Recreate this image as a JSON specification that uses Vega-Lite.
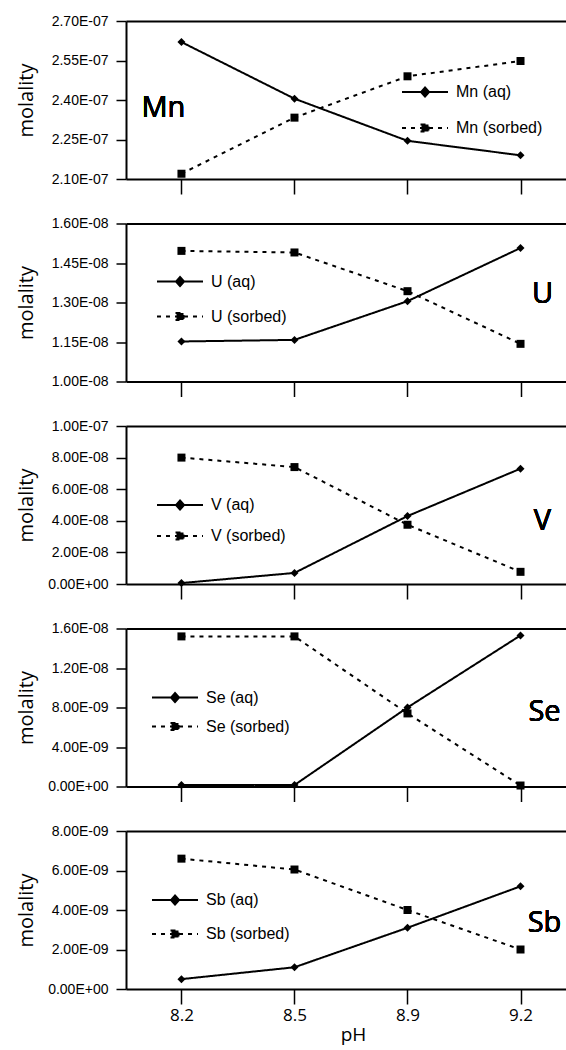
{
  "$schema": "https://vega.github.io/schema/vega-lite/v6.json",
  "padding": {"left": 15, "top": 14, "right": 0, "bottom": 4},
  "bounds": "flush",
  "spacing": 44.5,
  "datasets": {
    "d": [
      {"el": "Mn", "pH": "8.2", "series": "Mn (aq)", "m": 2.62e-7},
      {"el": "Mn", "pH": "8.5", "series": "Mn (aq)", "m": 2.405e-7},
      {"el": "Mn", "pH": "8.9", "series": "Mn (aq)", "m": 2.245e-7},
      {"el": "Mn", "pH": "9.2", "series": "Mn (aq)", "m": 2.19e-7},
      {"el": "Mn", "pH": "8.2", "series": "Mn (sorbed)", "m": 2.12e-7},
      {"el": "Mn", "pH": "8.5", "series": "Mn (sorbed)", "m": 2.333e-7},
      {"el": "Mn", "pH": "8.9", "series": "Mn (sorbed)", "m": 2.49e-7},
      {"el": "Mn", "pH": "9.2", "series": "Mn (sorbed)", "m": 2.548e-7},
      {"el": "U", "pH": "8.2", "series": "U (aq)", "m": 1.152e-8},
      {"el": "U", "pH": "8.5", "series": "U (aq)", "m": 1.158e-8},
      {"el": "U", "pH": "8.9", "series": "U (aq)", "m": 1.305e-8},
      {"el": "U", "pH": "9.2", "series": "U (aq)", "m": 1.507e-8},
      {"el": "U", "pH": "8.2", "series": "U (sorbed)", "m": 1.496e-8},
      {"el": "U", "pH": "8.5", "series": "U (sorbed)", "m": 1.49e-8},
      {"el": "U", "pH": "8.9", "series": "U (sorbed)", "m": 1.343e-8},
      {"el": "U", "pH": "9.2", "series": "U (sorbed)", "m": 1.143e-8},
      {"el": "V", "pH": "8.2", "series": "V (aq)", "m": 6e-10},
      {"el": "V", "pH": "8.5", "series": "V (aq)", "m": 7e-9},
      {"el": "V", "pH": "8.9", "series": "V (aq)", "m": 4.3e-8},
      {"el": "V", "pH": "9.2", "series": "V (aq)", "m": 7.3e-8},
      {"el": "V", "pH": "8.2", "series": "V (sorbed)", "m": 8.0e-8},
      {"el": "V", "pH": "8.5", "series": "V (sorbed)", "m": 7.4e-8},
      {"el": "V", "pH": "8.9", "series": "V (sorbed)", "m": 3.75e-8},
      {"el": "V", "pH": "9.2", "series": "V (sorbed)", "m": 7.7e-9},
      {"el": "Se", "pH": "8.2", "series": "Se (aq)", "m": 1.5e-10},
      {"el": "Se", "pH": "8.5", "series": "Se (aq)", "m": 1.5e-10},
      {"el": "Se", "pH": "8.9", "series": "Se (aq)", "m": 8.0e-9},
      {"el": "Se", "pH": "9.2", "series": "Se (aq)", "m": 1.53e-8},
      {"el": "Se", "pH": "8.2", "series": "Se (sorbed)", "m": 1.52e-8},
      {"el": "Se", "pH": "8.5", "series": "Se (sorbed)", "m": 1.52e-8},
      {"el": "Se", "pH": "8.9", "series": "Se (sorbed)", "m": 7.4e-9},
      {"el": "Se", "pH": "9.2", "series": "Se (sorbed)", "m": 1e-10},
      {"el": "Sb", "pH": "8.2", "series": "Sb (aq)", "m": 5e-10},
      {"el": "Sb", "pH": "8.5", "series": "Sb (aq)", "m": 1.1e-9},
      {"el": "Sb", "pH": "8.9", "series": "Sb (aq)", "m": 3.1e-9},
      {"el": "Sb", "pH": "9.2", "series": "Sb (aq)", "m": 5.2e-9},
      {"el": "Sb", "pH": "8.2", "series": "Sb (sorbed)", "m": 6.6e-9},
      {"el": "Sb", "pH": "8.5", "series": "Sb (sorbed)", "m": 6.05e-9},
      {"el": "Sb", "pH": "8.9", "series": "Sb (sorbed)", "m": 4.0e-9},
      {"el": "Sb", "pH": "9.2", "series": "Sb (sorbed)", "m": 2.0e-9}
    ]
  },
  "data": {"name": "d"},
  "resolve": {
    "scale": {"shape": "independent", "strokeDash": "independent"},
    "legend": {"shape": "independent", "strokeDash": "independent"}
  },
  "vconcat": [
    {
      "width": 441, "height": 158,
      "transform": [{"filter": "datum.el === 'Mn'"}],
      "resolve": {"axis": {"x": "independent"}},
      "encoding": {
        "y": {"field": "m", "type": "quantitative", "scale": {"domain": [2.1e-7, 2.7e-7], "nice": false, "zero": false}, "axis": {"title": "molality", "values": [2.1e-7, 2.25e-7, 2.4e-7, 2.55e-7, 2.7e-7], "labelExpr": "replace(replace(upper(format(datum.value*1.000001,'.2e')),'E-','E-0'),'E+','E+0')", "labelFont": "Liberation Sans", "labelFontSize": 14, "titleFont": "Open Sans", "titleFontSize": 20, "titleFontWeight": "normal"}}
      },
      "layer": [
        {
          "mark": {"type": "line", "color": "black", "strokeWidth": 2},
          "encoding": {
            "x": {"field": "pH", "type": "ordinal", "scale": {"type": "point", "padding": 0.451, "align": 0.544}, "axis": {"labels": false, "title": null}},
            "strokeDash": {"field": "series", "type": "nominal", "scale": {"range": [[1, 0], [4, 5]]}, "legend": {"orient": "none", "legendX": 288, "legendY": 60, "rowPadding": 16,
              "encode": {"symbols": {"update": {"shape": {"signal": "indexof(datum.value,'(aq)')>=0 ? 'M-2.3,0H2.3M0,-0.45L0.4,0L0,0.45L-0.4,0Z' : 'M-2.3,0H2.3M-0.35,-0.35H0.35V0.35H-0.35Z'"}, "strokeDash": {"signal": "indexof(datum.value,'(aq)')>=0 ? [1,0] : [4,4]"}, "size": {"value": 400}, "fill": {"value": "black"}, "stroke": {"value": "black"}, "strokeWidth": {"value": 2}, "opacity": {"value": 1}}}}}}
          }
        },
        {
          "mark": {"type": "point", "filled": true, "size": 64, "color": "black", "opacity": 1},
          "encoding": {
            "x": {"field": "pH", "type": "ordinal", "axis": {"orient": "top", "ticks": false, "labels": false, "title": null}},
            "shape": {"field": "series", "type": "nominal", "scale": {"range": ["diamond", "square"]}, "legend": null}
          }
        },
        {
          "mark": {"type": "text", "text": "Mn", "font": "Open Sans", "fontSize": 29, "dx": -18, "align": "center", "baseline": "middle"},
          "encoding": {
            "x": {"datum": "8.2", "type": "ordinal", "axis": null},
            "y": {"datum": 2.37e-7, "type": "quantitative"}
          }
        }
      ]
    },
    {
      "width": 441, "height": 158,
      "transform": [{"filter": "datum.el === 'U'"}],
      "resolve": {"axis": {"x": "independent"}},
      "encoding": {
        "y": {"field": "m", "type": "quantitative", "scale": {"domain": [1.0e-8, 1.6e-8], "nice": false, "zero": false}, "axis": {"title": "molality", "values": [1.0e-8, 1.15e-8, 1.3e-8, 1.45e-8, 1.6e-8], "labelExpr": "replace(replace(upper(format(datum.value*1.000001,'.2e')),'E-','E-0'),'E+','E+0')", "labelFont": "Liberation Sans", "labelFontSize": 14, "titleFont": "Open Sans", "titleFontSize": 20, "titleFontWeight": "normal"}}
      },
      "layer": [
        {
          "mark": {"type": "line", "color": "black", "strokeWidth": 2},
          "encoding": {
            "x": {"field": "pH", "type": "ordinal", "scale": {"type": "point", "padding": 0.451, "align": 0.544}, "axis": {"labels": false, "title": null}},
            "strokeDash": {"field": "series", "type": "nominal", "scale": {"range": [[1, 0], [4, 5]]}, "legend": {"orient": "none", "legendX": 43, "legendY": 47, "rowPadding": 15,
              "encode": {"symbols": {"update": {"shape": {"signal": "indexof(datum.value,'(aq)')>=0 ? 'M-2.3,0H2.3M0,-0.45L0.4,0L0,0.45L-0.4,0Z' : 'M-2.3,0H2.3M-0.35,-0.35H0.35V0.35H-0.35Z'"}, "strokeDash": {"signal": "indexof(datum.value,'(aq)')>=0 ? [1,0] : [4,4]"}, "size": {"value": 400}, "fill": {"value": "black"}, "stroke": {"value": "black"}, "strokeWidth": {"value": 2}, "opacity": {"value": 1}}}}}}
          }
        },
        {
          "mark": {"type": "point", "filled": true, "size": 64, "color": "black", "opacity": 1},
          "encoding": {
            "x": {"field": "pH", "type": "ordinal", "axis": {"orient": "top", "ticks": false, "labels": false, "title": null}},
            "shape": {"field": "series", "type": "nominal", "scale": {"range": ["diamond", "square"]}, "legend": null}
          }
        },
        {
          "mark": {"type": "text", "text": "U", "font": "Open Sans", "fontSize": 29, "dx": 22, "align": "center", "baseline": "middle"},
          "encoding": {
            "x": {"datum": "9.2", "type": "ordinal", "axis": null},
            "y": {"datum": 1.332e-8, "type": "quantitative"}
          }
        }
      ]
    },
    {
      "width": 441, "height": 158,
      "transform": [{"filter": "datum.el === 'V'"}],
      "resolve": {"axis": {"x": "independent"}},
      "encoding": {
        "y": {"field": "m", "type": "quantitative", "scale": {"domain": [0, 1.0e-7], "nice": false}, "axis": {"title": "molality", "values": [0, 2e-8, 4e-8, 6e-8, 8e-8, 1e-7], "labelExpr": "replace(replace(upper(format(datum.value*1.000001,'.2e')),'E-','E-0'),'E+','E+0')", "labelFont": "Liberation Sans", "labelFontSize": 14, "titleFont": "Open Sans", "titleFontSize": 20, "titleFontWeight": "normal"}}
      },
      "layer": [
        {
          "mark": {"type": "line", "color": "black", "strokeWidth": 2},
          "encoding": {
            "x": {"field": "pH", "type": "ordinal", "scale": {"type": "point", "padding": 0.451, "align": 0.544}, "axis": {"labels": false, "title": null}},
            "strokeDash": {"field": "series", "type": "nominal", "scale": {"range": [[1, 0], [4, 5]]}, "legend": {"orient": "none", "legendX": 43, "legendY": 68, "rowPadding": 11,
              "encode": {"symbols": {"update": {"shape": {"signal": "indexof(datum.value,'(aq)')>=0 ? 'M-2.3,0H2.3M0,-0.45L0.4,0L0,0.45L-0.4,0Z' : 'M-2.3,0H2.3M-0.35,-0.35H0.35V0.35H-0.35Z'"}, "strokeDash": {"signal": "indexof(datum.value,'(aq)')>=0 ? [1,0] : [4,4]"}, "size": {"value": 400}, "fill": {"value": "black"}, "stroke": {"value": "black"}, "strokeWidth": {"value": 2}, "opacity": {"value": 1}}}}}}
          }
        },
        {
          "mark": {"type": "point", "filled": true, "size": 64, "color": "black", "opacity": 1},
          "encoding": {
            "x": {"field": "pH", "type": "ordinal", "axis": {"orient": "top", "ticks": false, "labels": false, "title": null}},
            "shape": {"field": "series", "type": "nominal", "scale": {"range": ["diamond", "square"]}, "legend": null}
          }
        },
        {
          "mark": {"type": "text", "text": "V", "font": "Open Sans", "fontSize": 29, "dx": 22, "align": "center", "baseline": "middle"},
          "encoding": {
            "x": {"datum": "9.2", "type": "ordinal", "axis": null},
            "y": {"datum": 4.0e-8, "type": "quantitative"}
          }
        }
      ]
    },
    {
      "width": 441, "height": 158,
      "transform": [{"filter": "datum.el === 'Se'"}],
      "resolve": {"axis": {"x": "independent"}},
      "encoding": {
        "y": {"field": "m", "type": "quantitative", "scale": {"domain": [0, 1.6e-8], "nice": false}, "axis": {"title": "molality", "values": [0, 4e-9, 8e-9, 1.2e-8, 1.6e-8], "labelExpr": "replace(replace(upper(format(datum.value*1.000001,'.2e')),'E-','E-0'),'E+','E+0')", "labelFont": "Liberation Sans", "labelFontSize": 14, "titleFont": "Open Sans", "titleFontSize": 20, "titleFontWeight": "normal"}}
      },
      "layer": [
        {
          "mark": {"type": "line", "color": "black", "strokeWidth": 2},
          "encoding": {
            "x": {"field": "pH", "type": "ordinal", "scale": {"type": "point", "padding": 0.451, "align": 0.544}, "axis": {"labels": false, "title": null}},
            "strokeDash": {"field": "series", "type": "nominal", "scale": {"range": [[1, 0], [4, 5]]}, "legend": {"orient": "none", "legendX": 38, "legendY": 58, "rowPadding": 9,
              "encode": {"symbols": {"update": {"shape": {"signal": "indexof(datum.value,'(aq)')>=0 ? 'M-2.3,0H2.3M0,-0.45L0.4,0L0,0.45L-0.4,0Z' : 'M-2.3,0H2.3M-0.35,-0.35H0.35V0.35H-0.35Z'"}, "strokeDash": {"signal": "indexof(datum.value,'(aq)')>=0 ? [1,0] : [4,4]"}, "size": {"value": 400}, "fill": {"value": "black"}, "stroke": {"value": "black"}, "strokeWidth": {"value": 2}, "opacity": {"value": 1}}}}}}
          }
        },
        {
          "mark": {"type": "point", "filled": true, "size": 64, "color": "black", "opacity": 1},
          "encoding": {
            "x": {"field": "pH", "type": "ordinal", "axis": {"orient": "top", "ticks": false, "labels": false, "title": null}},
            "shape": {"field": "series", "type": "nominal", "scale": {"range": ["diamond", "square"]}, "legend": null}
          }
        },
        {
          "mark": {"type": "text", "text": "Se", "font": "Open Sans", "fontSize": 29, "dx": 24, "align": "center", "baseline": "middle"},
          "encoding": {
            "x": {"datum": "9.2", "type": "ordinal", "axis": null},
            "y": {"datum": 7.5e-9, "type": "quantitative"}
          }
        }
      ]
    },
    {
      "width": 441, "height": 158,
      "transform": [{"filter": "datum.el === 'Sb'"}],
      "resolve": {"axis": {"x": "independent"}},
      "encoding": {
        "y": {"field": "m", "type": "quantitative", "scale": {"domain": [0, 8e-9], "nice": false}, "axis": {"title": "molality", "values": [0, 2e-9, 4e-9, 6e-9, 8e-9], "labelExpr": "replace(replace(upper(format(datum.value*1.000001,'.2e')),'E-','E-0'),'E+','E+0')", "labelFont": "Liberation Sans", "labelFontSize": 14, "titleFont": "Open Sans", "titleFontSize": 20, "titleFontWeight": "normal"}}
      },
      "layer": [
        {
          "mark": {"type": "line", "color": "black", "strokeWidth": 2},
          "encoding": {
            "x": {"field": "pH", "type": "ordinal", "scale": {"type": "point", "padding": 0.451, "align": 0.544}, "axis": {"labels": true, "labelAngle": 0, "title": "pH", "titleX": 227, "titlePadding": 2, "labelFont": "Open Sans", "labelFontSize": 17, "titleFont": "Open Sans", "titleFontSize": 19, "titleFontWeight": "normal"}},
            "strokeDash": {"field": "series", "type": "nominal", "scale": {"range": [[1, 0], [4, 5]]}, "legend": {"orient": "none", "legendX": 38, "legendY": 58, "rowPadding": 14,
              "encode": {"symbols": {"update": {"shape": {"signal": "indexof(datum.value,'(aq)')>=0 ? 'M-2.3,0H2.3M0,-0.45L0.4,0L0,0.45L-0.4,0Z' : 'M-2.3,0H2.3M-0.35,-0.35H0.35V0.35H-0.35Z'"}, "strokeDash": {"signal": "indexof(datum.value,'(aq)')>=0 ? [1,0] : [4,4]"}, "size": {"value": 400}, "fill": {"value": "black"}, "stroke": {"value": "black"}, "strokeWidth": {"value": 2}, "opacity": {"value": 1}}}}}}
          }
        },
        {
          "mark": {"type": "point", "filled": true, "size": 64, "color": "black", "opacity": 1},
          "encoding": {
            "x": {"field": "pH", "type": "ordinal", "axis": {"orient": "top", "ticks": false, "labels": false, "title": null}},
            "shape": {"field": "series", "type": "nominal", "scale": {"range": ["diamond", "square"]}, "legend": null}
          }
        },
        {
          "mark": {"type": "text", "text": "Sb", "font": "Open Sans", "fontSize": 29, "dx": 24, "align": "center", "baseline": "middle"},
          "encoding": {
            "x": {"datum": "9.2", "type": "ordinal", "axis": null},
            "y": {"datum": 3.36e-9, "type": "quantitative"}
          }
        }
      ]
    }
  ],
  "config": {
    "view": {"stroke": null},
    "axis": {"grid": false, "domainColor": "black", "domainWidth": 2, "tickColor": "black", "labelColor": "black", "titleColor": "black"},
    "axisLeft": {"tickSize": 10, "tickWidth": 1.5, "labelPadding": 8, "titleX": -100, "titleY": 79, "titleAngle": -90, "titleAlign": "center", "titleBaseline": "middle"},
    "axisBottom": {"tickSize": 15, "tickWidth": 1.5, "labelPadding": 3},
    "legend": {
      "title": null, "padding": 0, "offset": 0,
      "labelFont": "Liberation Sans", "labelFontSize": 16, "labelColor": "black", "labelLimit": 0,
      "symbolSize": 400, "labelOffset": 20,
      "symbolStrokeColor": "black", "symbolFillColor": "black", "symbolStrokeWidth": 2,
      "symbolOpacity": 1
    }
  }
}
